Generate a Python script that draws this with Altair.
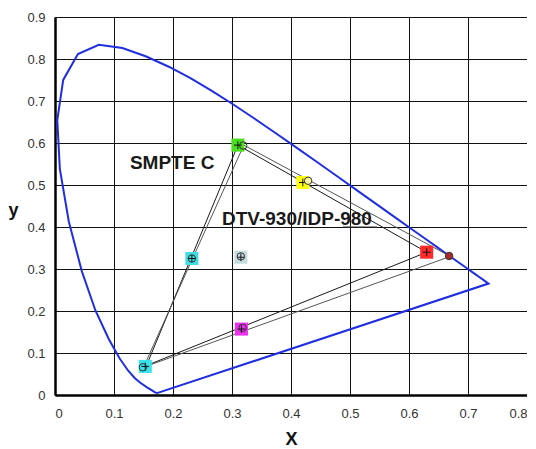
import altair as alt
import pandas as pd

# Spectral locus (x, y chromaticity), closed with the line of purples
locus_x = [0.1741, 0.1733, 0.1714, 0.1689, 0.1644, 0.1566, 0.1440, 0.1355, 0.1241, 0.1096,
           0.0913, 0.0687, 0.0454, 0.0235, 0.0082, 0.0039, 0.0139, 0.0389, 0.0743, 0.1142,
           0.1547, 0.1929, 0.2296, 0.2658, 0.3016, 0.3373, 0.3731, 0.4087, 0.4441, 0.4788,
           0.5125, 0.5448, 0.5752, 0.6029, 0.6270, 0.6482, 0.6658, 0.6801, 0.6915, 0.7006,
           0.7079, 0.7140, 0.7190, 0.7230, 0.7260, 0.7300, 0.7334, 0.7347, 0.1741]
locus_y = [0.0050, 0.0048, 0.0051, 0.0069, 0.0109, 0.0177, 0.0297, 0.0399, 0.0578, 0.0868,
           0.1327, 0.2007, 0.2950, 0.4127, 0.5384, 0.6548, 0.7502, 0.8120, 0.8338, 0.8262,
           0.8059, 0.7816, 0.7543, 0.7243, 0.6923, 0.6589, 0.6245, 0.5896, 0.5547, 0.5202,
           0.4866, 0.4544, 0.4242, 0.3965, 0.3725, 0.3514, 0.3340, 0.3197, 0.3083, 0.2993,
           0.2920, 0.2859, 0.2809, 0.2770, 0.2740, 0.2700, 0.2666, 0.2653, 0.0050]

# Triangles (G, R, B, G)
smpte_x = [0.31, 0.63, 0.155, 0.31]
smpte_y = [0.595, 0.34, 0.07, 0.595]
dtv_x = [0.32, 0.67, 0.15, 0.32]
dtv_y = [0.595, 0.33, 0.066, 0.595]

# Square markers
sq_x = [0.31, 0.42, 0.63, 0.316, 0.153, 0.232, 0.315]
sq_y = [0.595, 0.506, 0.34, 0.157, 0.068, 0.325, 0.328]
sq_color = ["#4ade1e", "#ffff10", "#ff2a2a", "#ee30ee", "#38e4ea", "#40dde4", "#c6dcdc"]

# Circle markers
ci_x = [0.319, 0.429, 0.668, 0.318, 0.149, 0.232, 0.315]
ci_y = [0.594, 0.51, 0.331, 0.16, 0.066, 0.325, 0.33]
ci_fill = ["transparent", "#fff7a0", "#a82a2a", "transparent", "transparent", "transparent", "transparent"]

labels = ["SMPTE C", "DTV-930/IDP-980"]
label_x = [0.127, 0.283]
label_y = [0.553, 0.418]

locus = pd.DataFrame({"x": locus_x, "y": locus_y, "o": range(len(locus_x))})
tri = pd.DataFrame({
    "x": smpte_x + dtv_x, "y": smpte_y + dtv_y,
    "o": list(range(4)) * 2,
    "tri": ["SMPTE C"] * 4 + ["DTV"] * 4,
    "c": ["#1a1a1a"] * 4 + ["#555555"] * 4,
})
sq = pd.DataFrame({"x": sq_x, "y": sq_y, "c": sq_color})
ci = pd.DataFrame({"x": ci_x, "y": ci_y, "f": ci_fill})
txt = pd.DataFrame({"x": label_x, "y": label_y, "t": labels})
ul = pd.DataFrame({"x": [0.488], "x2": [0.546], "y": [0.40]})

xs = alt.Scale(domain=[0, 0.8], nice=False, zero=False)
ys = alt.Scale(domain=[0, 0.9], nice=False, zero=False)
xv = [round(i * 0.1, 1) for i in range(9)]
yv = [round(i * 0.1, 1) for i in range(10)]

X = alt.X("x:Q", scale=xs, axis=alt.Axis(
    title="X", values=xv, format="~g", grid=True, gridColor="#111", gridWidth=1, gridOpacity=1,
    domainColor="#000", domainWidth=2.5, ticks=False, labelPadding=12,
    labelFont="Liberation Sans", labelFontSize=13, labelColor="#333",
    titleFont="Liberation Sans", titleFontSize=18, titleFontWeight="bold", titleColor="#111",
    titlePadding=10))
Y = alt.Y("y:Q", scale=ys, axis=alt.Axis(
    title="y", values=yv, format="~g", grid=True, gridColor="#111", gridWidth=1, gridOpacity=1,
    domainColor="#000", domainWidth=2.5, ticks=False, labelPadding=10,
    labelFont="Liberation Sans", labelFontSize=13, labelColor="#333",
    titleFont="Liberation Sans", titleFontSize=18, titleFontWeight="bold", titleColor="#111",
    titleAngle=0, titleX=-42, titleY=193, titleAlign="center", titleBaseline="middle"))

base_x = alt.X("x:Q", scale=xs)
base_y = alt.Y("y:Q", scale=ys)

locus_l = alt.Chart(locus).mark_line(color="#1f2ee0", strokeWidth=2).encode(x=X, y=Y, order="o:Q")
tri_l = alt.Chart(tri).mark_line(strokeWidth=1).encode(
    x=base_x, y=base_y, order="o:Q", detail="tri:N", color=alt.Color("c:N", scale=None))
ul_l = alt.Chart(ul).mark_rule(color="#333", strokeWidth=1).encode(x=base_x, x2="x2:Q", y=base_y)
sq_l = alt.Chart(sq).mark_point(shape="square", filled=True, size=170, opacity=1).encode(
    x=base_x, y=base_y, color=alt.Color("c:N", scale=None))
plus_l = alt.Chart(sq).mark_point(shape="M-1,0L1,0M0,-1L0,1", filled=False, size=60,
                                   color="#111", strokeWidth=1, opacity=1).encode(x=base_x, y=base_y)
ci_l = alt.Chart(ci).mark_point(shape="circle", size=55, stroke="#333", strokeWidth=1, opacity=1).encode(
    x=base_x, y=base_y, fill=alt.Fill("f:N", scale=None))
txt_l = alt.Chart(txt).mark_text(align="left", baseline="middle", font="Liberation Sans",
                                 fontSize=19, fontWeight="bold", color="#1a1a1a").encode(
    x=base_x, y=base_y, text="t:N")

chart = alt.layer(locus_l, tri_l, ul_l, sq_l, plus_l, ci_l, txt_l).properties(
    width=472, height=378,
    autosize=alt.AutoSizeParams(type="none"),
    padding={"left": 47, "top": 9, "right": 0, "bottom": 56},
    background="white",
).configure_view(stroke="#111", strokeWidth=1)

chart.save("out.html", embed_options={"renderer": "svg", "actions": False})
